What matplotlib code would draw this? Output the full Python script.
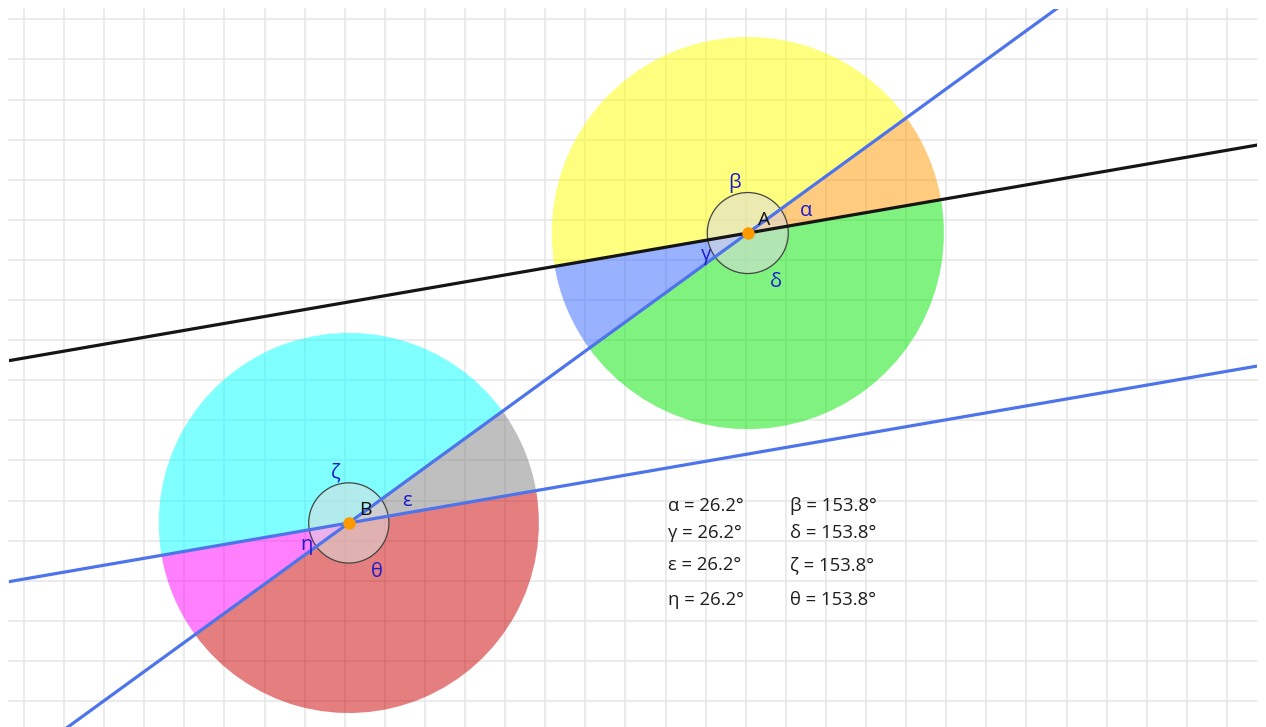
import matplotlib
matplotlib.use("Agg")
import matplotlib.pyplot as plt
from matplotlib.patches import Wedge, Circle, Rectangle
import numpy as np

plt.rcParams['font.family'] = ['Open Sans', 'DejaVu Sans']

# ---- data (grid units) ----
point_names = ["A", "B"]
point_x = [18.05, 8.10]
point_y = [11.67, 4.44]
big_radius = [4.89, 4.74]
small_radius = [1.01, 1.0]
line_angle = 9.8          # direction of black line and its parallel (deg)
transversal_angle = 36.0  # direction of transversal (deg)

angle_labels_A = ["α", "β", "γ", "δ"]
angle_labels_B = ["ε", "ζ", "η", "θ"]
colors_A = ["#ff9900", "#ffff00", "#3366ff", "#00e600"]
colors_B = ["#808080", "#00ffff", "#ff00ff", "#cc0000"]
angle_values = ["26.2°", "153.8°", "26.2°", "153.8°"]

# ---- figure ----
W, H = 1266, 727
fig = plt.figure(figsize=(W / 100, H / 100), dpi=100)
ax = fig.add_axes([0, 0, 1, 1])
u = 40.1
def px2x(px):
    return (px - 24) / u
def py2y(py):
    return (701 - py) / u
ax.set_xlim(px2x(0), px2x(W))
ax.set_ylim(py2y(H), py2y(0))
ax.set_aspect('equal')
ax.axis('off')

x0, x1 = px2x(9), px2x(1257)
y0, y1 = py2y(727), py2y(9)
clip = Rectangle((x0, y0), x1 - x0, y1 - y0, transform=ax.transData, visible=False)
ax.add_patch(clip)

# grid
for gx in range(0, 31):
    ax.plot([gx, gx], [y0, y1], color='#e6e6e6', lw=1.1, zorder=1)
for gy in range(0, 18):
    ax.plot([x0, x1], [gy, gy], color='#e6e6e6', lw=1.1, zorder=1)

# sectors
bounds = [line_angle, transversal_angle, line_angle + 180, transversal_angle + 180, line_angle + 360]
for (px_, py_, R, cols) in [(point_x[0], point_y[0], big_radius[0], colors_A),
                            (point_x[1], point_y[1], big_radius[1], colors_B)]:
    for i, c in enumerate(cols):
        ax.add_patch(Wedge((px_, py_), R, bounds[i], bounds[i + 1], facecolor=c,
                           alpha=0.5, edgecolor='none', zorder=2))

# small angle circles
for i in range(2):
    ax.add_patch(Circle((point_x[i], point_y[i]), small_radius[i], facecolor='#dcdcdc',
                        alpha=0.55, edgecolor='none', zorder=3))
    ax.add_patch(Circle((point_x[i], point_y[i]), small_radius[i], facecolor='none',
                        edgecolor='#444444', lw=0.9, zorder=3))

# lines
L = 60
def draw_line(cx, cy, ang, color):
    d = np.array([np.cos(np.radians(ang)), np.sin(np.radians(ang))])
    ln, = ax.plot([cx - L * d[0], cx + L * d[0]], [cy - L * d[1], cy + L * d[1]],
                  color=color, lw=2.3, zorder=4, solid_capstyle='butt')
    ln.set_clip_path(clip)

draw_line(point_x[0], point_y[0], transversal_angle, '#4d74ea')
draw_line(point_x[1], point_y[1], line_angle, '#4d74ea')
draw_line(point_x[0], point_y[0], line_angle, '#151515')

# points
ax.plot(point_x, point_y, 'o', color='#ff9900', markersize=9, markeredgewidth=0, zorder=5)

# labels
offsets = [(42, 16), (-9.4, 36), (-30.2, -15.8), (20.2, -35.3)]
name_offset = (12, 9.6)
for i, labels in enumerate([angle_labels_A, angle_labels_B]):
    for lab, off in zip(labels, offsets):
        ax.annotate(lab, (point_x[i], point_y[i]), xytext=off, textcoords='offset points',
                    ha='center', va='center', color='#1a1ccc', fontsize=14.5, zorder=6)
    ax.annotate(point_names[i], (point_x[i], point_y[i]), xytext=name_offset,
                textcoords='offset points', ha='center', va='center', color='#111111',
                fontsize=14, zorder=6)

# angle value table
rows_py = [506, 533, 565, 600]
left_names = ["α", "γ", "ε", "η"]
right_names = ["β", "δ", "ζ", "θ"]
for r, py in enumerate(rows_py):
    fig.text(668 / W, 1 - py / H, f"{left_names[r]} = {angle_values[0]}", ha='left', va='center',
             fontsize=13.3, color='#1e1e1e')
    fig.text(790 / W, 1 - py / H, f"{right_names[r]} = {angle_values[1]}", ha='left', va='center',
             fontsize=13.3, color='#1e1e1e')

fig.savefig("out.png", dpi=100, facecolor='white')
